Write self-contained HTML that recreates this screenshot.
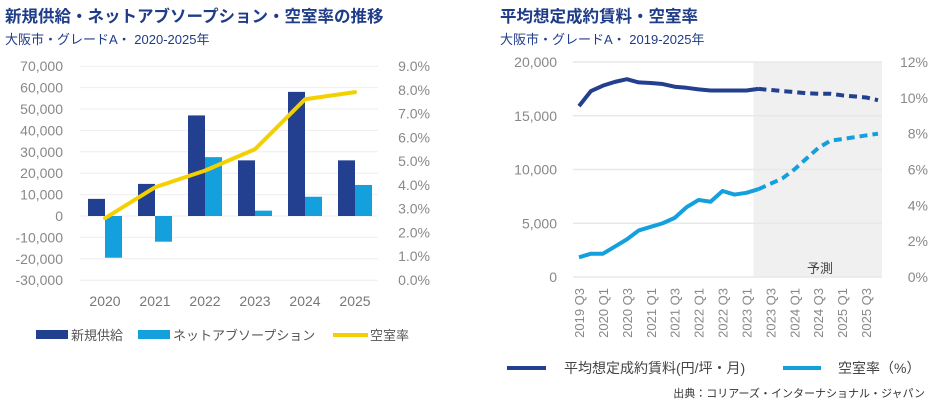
<!DOCTYPE html>
<html><head><meta charset="utf-8">
<style>
body{margin:0;background:#fff;width:940px;height:407px;overflow:hidden;font-family:"Liberation Sans","Noto Sans CJK JP",sans-serif}
svg text{font-family:"Liberation Sans","Noto Sans CJK JP",sans-serif}
</style></head>
<body>
<svg id="svg" width="940" height="407">
<text x="5" y="22" font-size="16.5" font-weight="bold" fill="#1f3c88">新規供給・ネットアブソープション・空室率の推移</text>
<text x="5" y="44" font-size="13" fill="#1f3c88">大阪市・グレードA・ 2020-2025年</text>
<text x="500" y="22" font-size="16.5" font-weight="bold" fill="#1f3c88">平均想定成約賃料・空室率</text>
<text x="500" y="44" font-size="13" fill="#1f3c88">大阪市・グレードA・ 2019-2025年</text>
<g id="left"></g>
<g id="right"></g>
<g>
<rect x="36" y="330" width="32" height="9" fill="#233f8f"/>
<text x="71" y="340" font-size="13" fill="#555">新規供給</text>
<rect x="138" y="330" width="32" height="9" fill="#14a0dc"/>
<text x="173" y="340" font-size="13" fill="#555">ネットアブソープション</text>
<rect x="333" y="333" width="35" height="4" fill="#f5d000"/>
<text x="370" y="340" font-size="13" fill="#555">空室率</text>
</g>
<g>
<rect x="507" y="366" width="39" height="4" fill="#233f8f"/>
<text x="564" y="373" font-size="14" fill="#444">平均想定成約賃料(円/坪・月)</text>
<rect x="783" y="366" width="38" height="4" fill="#14a0dc"/>
<text x="838" y="373" font-size="14" fill="#444">空室率（%）</text>
<text x="925" y="397" font-size="11" fill="#333" text-anchor="end">出典：コリアーズ・インターナショナル・ジャパン</text>
</g>
</svg>
<script>
const years=["2020","2021","2022","2023","2024","2025"];
const supply=[8000,15000,47000,26000,58000,26000];
const absorption=[-19500,-12000,27500,2500,9000,14500];
const vacancyL=[2.6,3.9,4.6,5.5,7.6,7.9];
const leftTicks=[70000,60000,50000,40000,30000,20000,10000,0,-10000,-20000,-30000];
const leftPctTicks=[9,8,7,6,5,4,3,2,1,0];

const quarters=["2019 Q3","2019 Q4","2020 Q1","2020 Q2","2020 Q3","2020 Q4","2021 Q1","2021 Q2","2021 Q3","2021 Q4","2022 Q1","2022 Q2","2022 Q3","2022 Q4","2023 Q1","2023 Q2","2023 Q3","2023 Q4","2024 Q1","2024 Q2","2024 Q3","2024 Q4","2025 Q1","2025 Q2","2025 Q3","2025 Q4"];
const rent=[15900,17300,17800,18150,18400,18100,18050,17950,17700,17600,17450,17350,17350,17350,17350,17500,17400,17300,17200,17100,17050,17050,16900,16800,16700,16450];
const vacancyR=[1.1,1.3,1.3,1.7,2.1,2.6,2.8,3.0,3.3,3.9,4.3,4.2,4.8,4.6,4.7,4.9,5.2,5.5,6.0,6.6,7.2,7.6,7.7,7.8,7.9,8.0];
const rentTicks=[20000,15000,10000,5000,0];
const pctTicksR=[12,10,8,6,4,2,0];
const forecastStart=15;

const NS="http://www.w3.org/2000/svg";
function mk(parent,tag,attrs,text){const e=document.createElementNS(NS,tag);for(const k in attrs)e.setAttribute(k,attrs[k]);if(text!==undefined)e.textContent=text;parent.appendChild(e);return e;}
const fmt=v=>v.toLocaleString("en-US");

// LEFT
const L=document.getElementById("left");
const lx0=80,lbw=50;
const ly=v=>216-v*21.4/10000;
const lyp=v=>280-v*(214/9);
const lxc=i=>lx0+lbw*(i+0.5);
leftTicks.forEach(t=>{
 const g=mk(L,"line",{x1:80,x2:378,y1:ly(t),y2:ly(t),stroke:"#eee","stroke-width":1});
 
 
 const tx=mk(L,"text",{x:63,y:ly(t)+5,"font-size":14,fill:"#888","text-anchor":"end"},fmt(t));
 
 
});
leftPctTicks.forEach(t=>{
 const tx=mk(L,"text",{x:430,y:lyp(t)+5,"font-size":14,fill:"#888","text-anchor":"end"},t.toFixed(1)+"%");
 
 
});
years.forEach((y,i)=>{
 const c=lxc(i);
 const a=mk(L,"rect",{x:c-17,y:Math.min(ly(supply[i]),ly(0)),width:17,height:Math.abs(ly(supply[i])-ly(0)),fill:"#233f8f"});
 
 
 const b=mk(L,"rect",{x:c,y:Math.min(ly(absorption[i]),ly(0)),width:17,height:Math.abs(ly(absorption[i])-ly(0)),fill:"#14a0dc"});
 
 
 const tx=mk(L,"text",{x:c,y:306,"font-size":14,fill:"#777","text-anchor":"middle"},y);
 
 
});
const lp=mk(L,"polyline",{points:vacancyL.map((v,i)=>lxc(i)+","+lyp(v)).join(" "),fill:"none",stroke:"#f5d000","stroke-width":4,"stroke-linejoin":"round","stroke-linecap":"round"});



// RIGHT
const R=document.getElementById("right");
const rx=i=>579+i*11.96;
const ry=v=>277-v*215/20000;
const ryp=v=>277-v*215/12;
const sh=mk(R,"rect",{x:(rx(forecastStart-1)+rx(forecastStart))/2+1,y:62,width:882-((rx(forecastStart-1)+rx(forecastStart))/2+1),height:215,fill:"#f0f0f0"});


const ft=mk(R,"text",{x:820,y:273,"font-size":13,fill:"#444","text-anchor":"middle"},"予測");


rentTicks.forEach(t=>{
 const g=mk(R,"line",{x1:573,x2:882,y1:ry(t),y2:ry(t),stroke:"#e8e8e8","stroke-width":1.5});
 
 
 const tx=mk(R,"text",{x:557,y:ry(t)+5,"font-size":14,fill:"#888","text-anchor":"end"},fmt(t));
 
 
});
pctTicksR.forEach(t=>{
 const tx=mk(R,"text",{x:928,y:ryp(t)+5,"font-size":14,fill:"#888","text-anchor":"end"},t+"%");
 
 
});
quarters.forEach((q,i)=>{
 if(i%2)return;
 const tx=mk(R,"text",{x:0,y:0,"font-size":13,fill:"#888","text-anchor":"end",transform:`translate(${rx(i)+5},288) rotate(-90)`},q);
 
 
});
function seg(arr,yf,a,b,color,dash,name){
 const pts=[];for(let i=a;i<=b;i++)pts.push(rx(i)+","+yf(arr[i]));
 const attrs={points:pts.join(" "),fill:"none",stroke:color,"stroke-width":4,"stroke-linejoin":"round"};
 if(dash){attrs["stroke-dasharray"]="8,5";}
 const p=mk(R,"polyline",attrs);
 
 
}
seg(rent,ry,0,forecastStart,"#233f8f",false,"rent-line");
seg(rent,ry,forecastStart,rent.length-1,"#233f8f",true,"rent-forecast-line");
seg(vacancyR,ryp,0,forecastStart,"#14a0dc",false,"vacancy-rate-line");
seg(vacancyR,ryp,forecastStart,vacancyR.length-1,"#14a0dc",true,"vacancy-rate-forecast-line");
</script>
</body></html>
